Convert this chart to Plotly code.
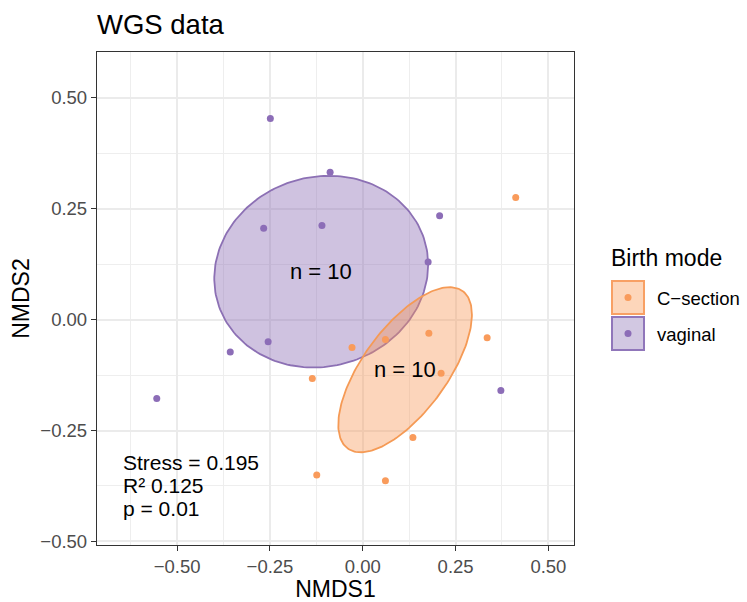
import numpy as np
import plotly.graph_objects as go

# ---- data ----
groups = ["C\u2212section", "vaginal"]
cs_x = [0.412, -0.029, 0.061, 0.178, 0.335, -0.136, 0.211, 0.135, -0.124, 0.061]
cs_y = [0.275, -0.063, -0.045, -0.031, -0.041, -0.133, -0.121, -0.266, -0.350, -0.363]
vg_x = [-0.249, -0.088, -0.267, -0.110, 0.207, 0.176, -0.255, -0.357, -0.555, 0.372]
vg_y = [0.453, 0.332, 0.206, 0.212, 0.234, 0.130, -0.050, -0.073, -0.178, -0.160]

# ellipse centres and covariance-like shape matrices (data units)
cs_center = [0.114, -0.113]
cs_cov = [[0.0324, 0.0223], [0.0223, 0.0346]]
vg_center = [-0.112, 0.108]
vg_cov = [[0.0830, 0.0045], [0.0045, 0.0467]]

group_n = [10, 10]
stats_text = ["Stress = 0.195", "R\u00b2 0.125", "p = 0.01"]

x_ticks = [-0.5, -0.25, 0.0, 0.25, 0.5]
y_ticks = [-0.5, -0.25, 0.0, 0.25, 0.5]

# ---- style ----
FONT = "Liberation Sans, Arial, sans-serif"
cs_pt, vg_pt = "#F99B5B", "#8C6DB7"
cs_line, vg_line = "#F59A55", "#8C70B4"
cs_fill, vg_fill = "rgba(248,150,85,0.40)", "rgba(140,110,182,0.42)"

W, H = 747, 602
L, R, T, B = 97, 574, 52, 545


def ellipse(center, cov, n=200):
    t = np.linspace(0, 2 * np.pi, n)
    Lc = np.linalg.cholesky(np.array(cov))
    pts = Lc @ np.vstack([np.cos(t), np.sin(t)])
    return pts[0] + center[0], pts[1] + center[1]


fig = go.Figure()
for center, cov, fc, lc in [(vg_center, vg_cov, vg_fill, vg_line),
                            (cs_center, cs_cov, cs_fill, cs_line)]:
    ex, ey = ellipse(center, cov)
    fig.add_trace(go.Scatter(x=ex, y=ey, mode="lines", fill="toself",
                             fillcolor=fc, line=dict(color=lc, width=1.8),
                             showlegend=False, hoverinfo="skip"))

fig.add_trace(go.Scatter(x=cs_x, y=cs_y, mode="markers", name=groups[0],
                         marker=dict(color=cs_pt, size=7), showlegend=False))
fig.add_trace(go.Scatter(x=vg_x, y=vg_y, mode="markers", name=groups[1],
                         marker=dict(color=vg_pt, size=7), showlegend=False))

for center, n in [(cs_center, group_n[0]), (vg_center, group_n[1])]:
    fig.add_annotation(x=center[0], y=center[1], text=f"n = {n}", showarrow=False,
                       font=dict(family=FONT, size=22, color="black"))

# stats block: three lines, left aligned
for i, line in enumerate(stats_text):
    fig.add_annotation(x=-0.652, y=-0.322 - i * 0.0515, xanchor="left", yanchor="middle",
                       text=line, showarrow=False,
                       font=dict(family=FONT, size=21, color="black"))


def px(xp):
    return (xp - L) / (R - L)


def py(yp):
    return (B - yp) / (B - T)


# custom legend
fig.add_annotation(xref="paper", yref="paper", x=px(609), y=py(258), xanchor="left",
                   yanchor="middle", text="Birth mode", showarrow=False,
                   font=dict(family=FONT, size=23, color="black"))
for i, (lab, fcol, lcol, pcol) in enumerate([(groups[0], "#FDD6BA", "#F8A064", cs_pt),
                                             (groups[1], "#D2C8E2", "#9076BA", vg_pt)]):
    y0 = 281 + i * 36
    fig.add_shape(type="rect", xref="paper", yref="paper",
                  x0=px(612), x1=px(644), y0=py(y0), y1=py(y0 + 33),
                  fillcolor=fcol, line=dict(color=lcol, width=2))
    fig.add_shape(type="circle", xref="paper", yref="paper",
                  x0=px(624.5), x1=px(631.5), y0=py(y0 + 13), y1=py(y0 + 20),
                  fillcolor=pcol, line=dict(width=0))
    fig.add_annotation(xref="paper", yref="paper", x=px(655), y=py(y0 + 17),
                       xanchor="left", yanchor="middle", text=lab, showarrow=False,
                       font=dict(family=FONT, size=18.5, color="black"))

axis_common = dict(
    automargin=False,
    showgrid=True, gridcolor="#EBEBEB", gridwidth=1.8,
    zeroline=False, showline=True, linecolor="#333333", linewidth=1.3, mirror=True,
    ticks="outside", ticklen=5, tickcolor="#333333", tickwidth=1.3,
    tickfont=dict(family=FONT, size=18.5, color="#4D4D4D"),
    tickformat=".2f",
    minor=dict(showgrid=True, gridcolor="#EEEEEE", gridwidth=0.9, dtick=0.125, tick0=0.125),
)

fig.update_layout(
    width=W, height=H,
    margin=dict(l=L, r=W - R, t=T, b=H - B),
    plot_bgcolor="white", paper_bgcolor="white",
    showlegend=False,
    title=dict(text="WGS data", x=97 / W, xanchor="left", y=1 - 24 / H, yanchor="middle",
               font=dict(family=FONT, size=27.5, color="black")),
    xaxis=dict(range=[-0.716, 0.569], tickvals=x_ticks,
               title=dict(text="NMDS1", font=dict(family=FONT, size=23, color="black"), standoff=2),
               **axis_common),
    yaxis=dict(range=[-0.508, 0.603], tickvals=y_ticks,
               title=dict(text="NMDS2", font=dict(family=FONT, size=23, color="black"), standoff=4),
               **axis_common),
)

fig.write_html("out.html")
